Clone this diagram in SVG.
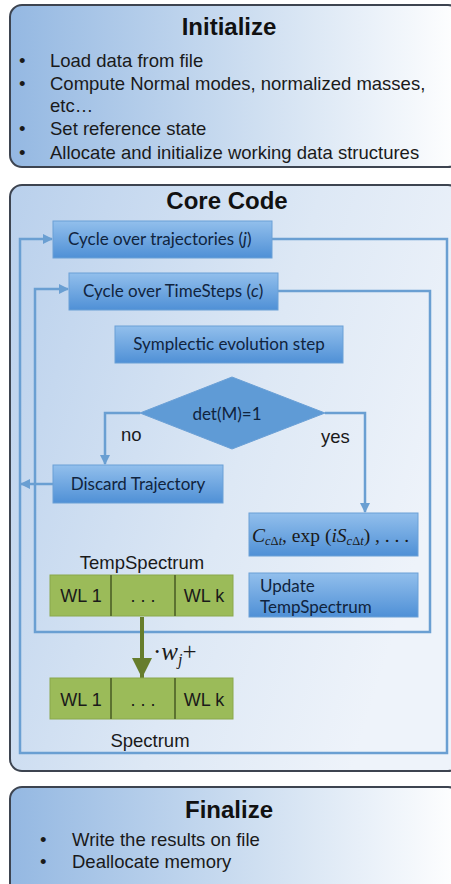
<svg xmlns="http://www.w3.org/2000/svg" width="451" height="884" viewBox="0 0 451 884">
<defs>
  <linearGradient id="panelGrad" x1="0" y1="0" x2="1" y2="0">
    <stop offset="0" stop-color="#94b8e2"/>
    <stop offset="0.55" stop-color="#cfdff1"/>
    <stop offset="1" stop-color="#ffffff"/>
  </linearGradient>
  <linearGradient id="coreGrad" x1="0" y1="0" x2="1" y2="0.4">
    <stop offset="0" stop-color="#b9d0ec"/>
    <stop offset="0.6" stop-color="#dde8f5"/>
    <stop offset="1" stop-color="#eef3fa"/>
  </linearGradient>
  <linearGradient id="boxGrad" x1="0" y1="0" x2="0" y2="1">
    <stop offset="0" stop-color="#92bfec"/>
    <stop offset="1" stop-color="#4f90d6"/>
  </linearGradient>
  <marker id="arrBlue" markerWidth="10" markerHeight="10" refX="9" refY="5" orient="auto" markerUnits="userSpaceOnUse">
    <path d="M0,0 L10,5 L0,10 Z" fill="#6a9fd2"/>
  </marker>
  <marker id="arrGreen" markerWidth="22" markerHeight="20" refX="20" refY="10" orient="auto" markerUnits="userSpaceOnUse">
    <path d="M0,0 L20,10 L0,20 Z" fill="#667d2c"/>
  </marker>
  <style>
    .panel { stroke: #3d4450; stroke-width: 2; }
    .title { font-family: "Liberation Sans", Arial, sans-serif; font-weight: bold; font-size: 24px; fill: #111; text-anchor: middle; }
    .bul { font-family: "Liberation Sans", Arial, sans-serif; font-size: 18.5px; fill: #1a1a1a; }
    .box { fill: url(#boxGrad); stroke: #6ba0d6; stroke-width: 1; }
    .btxt { font-family: "Lato", "Open Sans", sans-serif; font-size: 17px; fill: #10243e; }
    .mid { text-anchor: middle; }
    .conn { fill: none; stroke: #6a9fd2; stroke-width: 2.5; }
    .cell { fill: #9bbb59; stroke: #8aa84c; stroke-width: 1; }
    .div { stroke: #5c7230; stroke-width: 2; }
    .ctxt { font-family: "Liberation Sans", Arial, sans-serif; font-size: 18px; fill: #1a1a1a; text-anchor: middle; }
    .lbl { font-family: "Liberation Sans", Arial, sans-serif; font-size: 18.5px; fill: #1a1a1a; }
    .math { font-family: "Liberation Serif", "Times New Roman", serif; fill: #1a1a1a; }
  </style>
</defs>

<rect width="451" height="884" fill="#ffffff"/>

<g id="initialize">
  <rect class="panel" x="10" y="5" width="450" height="162" rx="12" fill="url(#panelGrad)"/>
  <text class="title" x="229" y="35">Initialize</text>
  <text class="bul" x="19" y="67">•</text><text class="bul" x="50" y="67">Load data from file</text>
  <text class="bul" x="19" y="90">•</text><text class="bul" x="50" y="90">Compute Normal modes, normalized masses,</text>
  <text class="bul" x="50" y="112">etc…</text>
  <text class="bul" x="19" y="135">•</text><text class="bul" x="50" y="135">Set reference state</text>
  <text class="bul" x="19" y="159">•</text><text class="bul" x="50" y="159">Allocate and initialize working data structures</text>
</g>

<g id="core-code">
  <rect class="panel" x="10" y="185" width="450" height="586" rx="12" fill="url(#coreGrad)"/>
  <text class="title" x="227" y="209">Core Code</text>
</g>

<g id="connectors">
  <path class="conn" d="M272,239 H447 V753 H20 V239 H52" marker-end="url(#arrBlue)"/>
  <path class="conn" d="M278,291 H430 V632 H35 V289 H68" marker-end="url(#arrBlue)"/>
  <path class="conn" d="M140,413 H105 V464" marker-end="url(#arrBlue)"/>
  <path class="conn" d="M325,413 H365 V512" marker-end="url(#arrBlue)"/>
  <path class="conn" d="M53,484 H21" marker-end="url(#arrBlue)"/>
  <path d="M142,617 V678" stroke="#667d2c" stroke-width="4" fill="none" marker-end="url(#arrGreen)"/>
</g>

<g id="cycle-trajectories">
  <rect class="box" x="53" y="221" width="219" height="37"/>
  <text class="btxt" x="68" y="245" font-size="15">Cycle over trajectories (<tspan font-style="italic">j</tspan>)</text>
</g>

<g id="cycle-timesteps">
  <rect class="box" x="69" y="273" width="209" height="37"/>
  <text class="btxt" x="83" y="297">Cycle over TimeSteps (<tspan font-style="italic">c</tspan>)</text>
</g>

<g id="symplectic">
  <rect class="box" x="115" y="326" width="228" height="37"/>
  <text class="btxt mid" x="229" y="350">Symplectic evolution step</text>
</g>

<g id="decision">
  <path d="M232,377 L325,413 L232,449 L140,413 Z" fill="#5f9bd6" stroke="#6ba0d6" stroke-width="1"/>
  <text class="btxt mid" x="227" y="420">det(M)=1</text>
  <text class="lbl" x="121" y="441">no</text>
  <text class="lbl" x="321" y="443">yes</text>
</g>

<g id="discard">
  <rect class="box" x="53" y="465" width="170" height="38"/>
  <text class="btxt mid" x="138" y="490">Discard Trajectory</text>
</g>

<g id="compute">
  <rect class="box" x="249" y="513" width="169" height="43"/>
  <text class="math" x="252" y="542" font-size="19.5"><tspan font-style="italic">C</tspan><tspan font-size="12.5" dy="3"><tspan font-style="italic">c</tspan>Δ<tspan font-style="italic">t</tspan></tspan><tspan dy="-3">, exp (</tspan><tspan font-style="italic">iS</tspan><tspan font-size="12.5" dy="3"><tspan font-style="italic">c</tspan>Δ<tspan font-style="italic">t</tspan></tspan><tspan dy="-3">) , . . .</tspan></text>
</g>

<g id="update">
  <rect class="box" x="249" y="573" width="169" height="44"/>
  <text class="btxt" x="260" y="592">Update</text>
  <text class="btxt" x="260" y="613">TempSpectrum</text>
</g>

<g id="tempspectrum">
  <text class="lbl" x="142" y="569" text-anchor="middle">TempSpectrum</text>
  <rect class="cell" x="50" y="575" width="183" height="41"/>
  <line class="div" x1="111" y1="575" x2="111" y2="616"/>
  <line class="div" x1="175" y1="575" x2="175" y2="616"/>
  <text class="ctxt" x="81" y="602">WL 1</text>
  <text class="ctxt" x="143" y="602">. . .</text>
  <text class="ctxt" x="204" y="602">WL k</text>
</g>

<g id="weight-label">
  <text class="math" x="153" y="660" font-size="25">·<tspan font-style="italic">w</tspan><tspan font-style="italic" font-size="16" dy="5">j</tspan><tspan dy="-5">+</tspan></text>
</g>

<g id="spectrum">
  <rect class="cell" x="50" y="678" width="183" height="41"/>
  <line class="div" x1="111" y1="678" x2="111" y2="719"/>
  <line class="div" x1="175" y1="678" x2="175" y2="719"/>
  <text class="ctxt" x="81" y="706">WL 1</text>
  <text class="ctxt" x="143" y="706">. . .</text>
  <text class="ctxt" x="204" y="706">WL k</text>
  <text class="lbl" x="150" y="747" text-anchor="middle">Spectrum</text>
</g>

<g id="finalize">
  <rect class="panel" x="10" y="787" width="450" height="110" rx="12" fill="url(#panelGrad)"/>
  <text class="title" x="229" y="818">Finalize</text>
  <text class="bul" x="40" y="846">•</text><text class="bul" x="72" y="846">Write the results on file</text>
  <text class="bul" x="40" y="868">•</text><text class="bul" x="72" y="868">Deallocate memory</text>
</g>
</svg>
